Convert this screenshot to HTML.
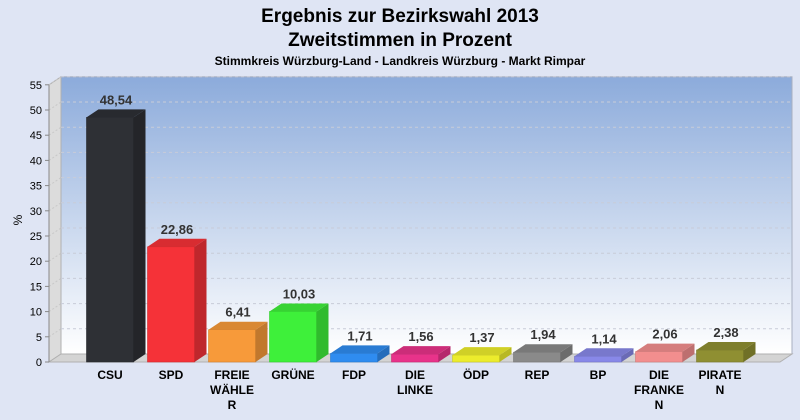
<!DOCTYPE html>
<html><head><meta charset="utf-8"><style>
html,body{margin:0;padding:0;overflow:hidden;width:800px;height:420px;background:#dfe5f4;font-family:"Liberation Sans",sans-serif;}
svg{display:block;}
svg text{font-family:"Liberation Sans",sans-serif;}
</style></head><body>
<svg width="800" height="420" viewBox="0 0 800 420">
<defs>
<linearGradient id="wall" x1="0" y1="0" x2="0" y2="1"><stop offset="0" stop-color="#8cabdb"/><stop offset="1" stop-color="#ffffff"/></linearGradient>
</defs>
<rect width="800" height="420" fill="#dfe5f4"/>
<text x="400" y="22" text-anchor="middle" font-size="19" font-weight="bold" fill="#000">Ergebnis zur Bezirkswahl 2013</text>
<text x="400" y="46" text-anchor="middle" font-size="19" font-weight="bold" fill="#000">Zweitstimmen in Prozent</text>
<text x="400" y="65" text-anchor="middle" font-size="12" font-weight="bold" fill="#000">Stimmkreis Würzburg-Land - Landkreis Würzburg - Markt Rimpar</text>
<g id="plot"></g>
<text transform="translate(22,220) rotate(-90)" text-anchor="middle" font-size="12" fill="#000">%</text>
</svg>
<script>
const categories=["CSU","SPD","FREIE|WÄHLE|R","GRÜNE","FDP","DIE|LINKE","ÖDP","REP","BP","DIE|FRANKE|N","PIRATE|N"];
const values=[48.54,22.86,6.41,10.03,1.71,1.56,1.37,1.94,1.14,2.06,2.38];
const valueLabels=["48,54","22,86","6,41","10,03","1,71","1,56","1,37","1,94","1,14","2,06","2,38"];
const colors=["#2e3035","#f53238","#f79a3a","#3ef03a","#2f8cf0","#e8338a","#ecec2c","#8a8a8a","#8888e8","#f28e8e","#8f8f32"];
const yTicks=[0,5,10,15,20,25,30,35,40,45,50,55];
const NS="http://www.w3.org/2000/svg";
const g=document.getElementById('plot');
const x0=49,x1=780,y0=362,dx=12,dy=8;
const y=v=>y0-v*5.04;
const xc=i=>110+i*61;
function mk(t,a){const e=document.createElementNS(NS,t);for(const k in a)e.setAttribute(k,a[k]);g.appendChild(e);return e;}
function shade(c,f){const n=parseInt(c.slice(1),16);let r=n>>16,gg=(n>>8)&255,b=n&255;return `rgb(${Math.round(r*f)},${Math.round(gg*f)},${Math.round(b*f)})`;}
let e;
e=mk('rect',{x:x0+dx,y:y(55)-dy,width:x1-x0,height:y0-y(55),fill:'url(#wall)',stroke:'#a8b0c0'});

e=mk('polygon',{points:`${x0},${y(55)} ${x0+dx},${y(55)-dy} ${x0+dx},${y0-dy} ${x0},${y0}`,fill:'#dcdcdc',stroke:'#b0b0b0'});

e=mk('polygon',{points:`${x0},${y0} ${x0+dx},${y0-dy} ${x1+dx},${y0-dy} ${x1},${y0}`,fill:'#d4d4d4',stroke:'#b0b0b0'});

yTicks.forEach(t=>{
 if(t>0){e=mk('line',{x1:x0+dx,y1:y(t)-dy,x2:x1+dx,y2:y(t)-dy,stroke:'#c8ccd8','stroke-dasharray':'3,3'});
 
 e=mk('line',{x1:x0,y1:y(t),x2:x0+dx,y2:y(t)-dy,stroke:'#c8c8c8','stroke-dasharray':'2,2'});
 }
 e=mk('line',{x1:x0-4,y1:y(t),x2:x0,y2:y(t),stroke:'#888'});
 
 e=mk('text',{x:x0-7,y:y(t)+4,'text-anchor':'end','font-size':'11',fill:'#000'});e.textContent=t;
 
});
e=mk('line',{x1:x0,y1:y(55),x2:x0,y2:y0,stroke:'#888'});

values.forEach((v,i)=>{
 const c=colors[i],l=xc(i)-23.5,r=xc(i)+23.5,top=y(v);
 e=mk('rect',{x:l,y:top,width:r-l,height:y0-top,fill:c,stroke:shade(c,0.85),'stroke-width':'0.6'});
 
 e=mk('polygon',{points:`${r},${top} ${r+dx},${top-dy} ${r+dx},${y0-dy} ${r},${y0}`,fill:shade(c,0.78)});
 
 e=mk('polygon',{points:`${l},${top} ${l+dx},${top-dy} ${r+dx},${top-dy} ${r},${top}`,fill:shade(c,0.88)});
 
 e=mk('text',{x:xc(i)+6,y:top-dy-5,'text-anchor':'middle','font-size':'13','font-weight':'bold',fill:'#333'});e.textContent=valueLabels[i];
 
 categories[i].split('|').forEach((s,k)=>{
  e=mk('text',{x:xc(i),y:379+k*15,'text-anchor':'middle','font-size':'12','font-weight':'bold',fill:'#000'});e.textContent=s;
  
 });
});
</script>
</body></html>
